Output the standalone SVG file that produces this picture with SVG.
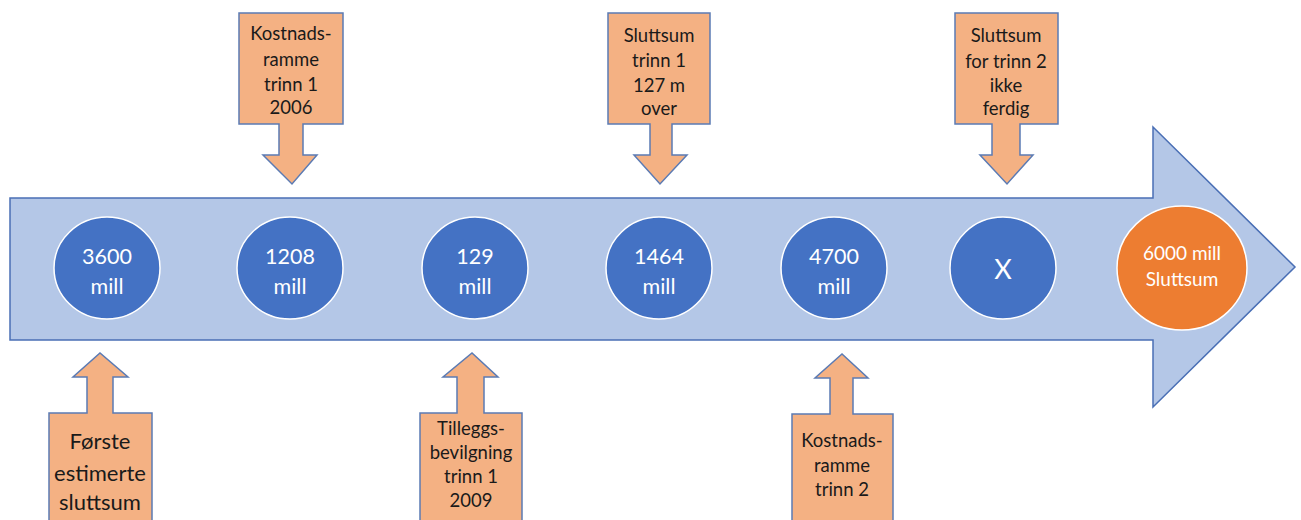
<svg xmlns="http://www.w3.org/2000/svg" width="1301" height="520" viewBox="0 0 1301 520">
<style>
.bg{fill:#ffffff}
.timeline{fill:#B4C7E7;stroke:#4A6FB5;stroke-width:1.5}
.node{fill:#4472C4;stroke:#ffffff;stroke-width:1.5}
.final{fill:#ED7D31;stroke:#ffffff;stroke-width:1.5}
.call{fill:#F4B183;stroke:#5B7BB4;stroke-width:1.5}
text{font-family:Lato,"Open Sans","Liberation Sans",sans-serif;text-anchor:middle;dominant-baseline:central}
.nt{fill:#ffffff;font-size:21.5px}
.ct{fill:#1a1a1a;font-size:18.5px}
.ctl{fill:#1a1a1a;font-size:22px}
</style>
<rect class="bg" x="0" y="0" width="1301" height="520"/>
<g id="connectors">
<path id="timeline-arrow" class="timeline" d="M10,198 L1153,198 L1153,127 L1295,267 L1153,407 L1153,340 L10,340 Z"/>
</g>
<g id="n1"><ellipse class="node" cx="107" cy="268" rx="53" ry="51"/><text class="nt" x="107" y="256">3600</text><text class="nt" x="107" y="286">mill</text></g>
<g id="n2"><ellipse class="node" cx="290" cy="268" rx="53" ry="51"/><text class="nt" x="290" y="256">1208</text><text class="nt" x="290" y="286">mill</text></g>
<g id="n3"><ellipse class="node" cx="475" cy="268" rx="53" ry="51"/><text class="nt" x="475" y="256">129</text><text class="nt" x="475" y="286">mill</text></g>
<g id="n4"><ellipse class="node" cx="659" cy="268" rx="53" ry="51"/><text class="nt" x="659" y="256">1464</text><text class="nt" x="659" y="286">mill</text></g>
<g id="n5"><ellipse class="node" cx="834" cy="268" rx="53" ry="51"/><text class="nt" x="834" y="256">4700</text><text class="nt" x="834" y="286">mill</text></g>
<g id="n6"><ellipse class="node" cx="1003" cy="268" rx="53" ry="51"/><text class="nt" x="1003" y="268" style="font-size:27px">X</text></g>
<g id="n7"><ellipse class="final" cx="1182" cy="268" rx="65" ry="62"/><text class="nt" x="1182" y="252" style="font-size:19px">6000 mill</text><text class="nt" x="1182" y="278" style="font-size:19px">Sluttsum</text></g>
<g id="c1"><path class="call" d="M239,13 L343,13 L343,124 L303,124 L303,155 L317,155 L292,184 L263,155 L279,155 L279,124 L239,124 Z"/>
<text class="ct" x="291" y="33">Kostnads-</text><text class="ct" x="291" y="59">ramme</text><text class="ct" x="291" y="84">trinn 1</text><text class="ct" x="291" y="107">2006</text></g>
<g id="c2"><path class="call" d="M608,13 L710,13 L710,124 L672,124 L672,155 L687,155 L660,184 L634,155 L650,155 L650,124 L608,124 Z"/>
<text class="ct" x="659" y="35">Sluttsum</text><text class="ct" x="659" y="60">trinn 1</text><text class="ct" x="659" y="85">127 m</text><text class="ct" x="659" y="108">over</text></g>
<g id="c3"><path class="call" d="M955,13 L1058,13 L1058,124 L1020,124 L1020,155 L1033,155 L1007,184 L980,155 L992,155 L992,124 L955,124 Z"/>
<text class="ct" x="1006" y="35">Sluttsum</text><text class="ct" x="1006" y="61">for trinn 2</text><text class="ct" x="1006" y="85">ikke</text><text class="ct" x="1006" y="108">ferdig</text></g>
<g id="c4"><path class="call" d="M49,522 L49,413 L87,413 L87,377 L73,377 L100,353 L128,377 L113,377 L113,413 L152,413 L152,522 Z"/>
<text class="ctl" x="100" y="440">Første</text><text class="ctl" x="100" y="472">estimerte</text><text class="ctl" x="100" y="501">sluttsum</text></g>
<g id="c5"><path class="call" d="M420,522 L420,413 L457,413 L457,377 L443,377 L472,353 L498,377 L484,377 L484,413 L522,413 L522,522 Z"/>
<text class="ct" x="471" y="428">Tilleggs-</text><text class="ct" x="471" y="452">bevilgning</text><text class="ct" x="471" y="476">trinn 1</text><text class="ct" x="471" y="500">2009</text></g>
<g id="c6"><path class="call" d="M792,522 L792,414 L830,414 L830,378 L815,378 L842,354 L868,378 L853,378 L853,414 L893,414 L893,522 Z"/>
<text class="ct" x="842" y="440">Kostnads-</text><text class="ct" x="842" y="465">ramme</text><text class="ct" x="842" y="489">trinn 2</text></g>
</svg>
